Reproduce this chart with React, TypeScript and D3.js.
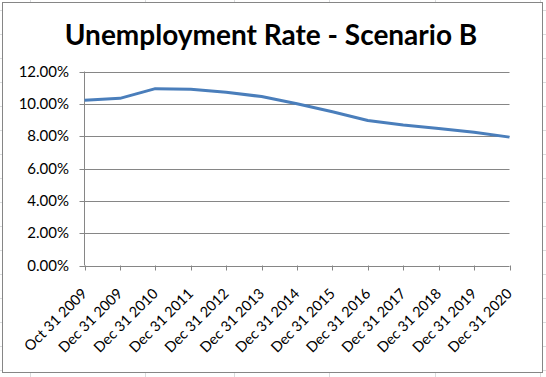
import React from "react";
import * as d3 from "d3";

const categories = [
  "Oct 31 2009", "Dec 31 2009", "Dec 31 2010", "Dec 31 2011", "Dec 31 2012",
  "Dec 31 2013", "Dec 31 2014", "Dec 31 2015", "Dec 31 2016", "Dec 31 2017",
  "Dec 31 2018", "Dec 31 2019", "Dec 31 2020",
];
const rates = [10.22, 10.34, 10.94, 10.9, 10.72, 10.45, 10.0, 9.51, 8.97, 8.69, 8.48, 8.24, 7.94];
const yTicks = [0, 2, 4, 6, 8, 10, 12];
const title = "Unemployment Rate - Scenario B";

const W = 546, H = 377;
const left = 84.5, right = 509.5, top = 71.5, bottom = 265.5;
const cellCols = [30, 145, 234, 329, 435, 540];
const cellRows = d3.range(10, 377, 24);

export default function App() {
  const x = d3.scalePoint<string>().domain(categories).range([left, right]);
  const y = d3.scaleLinear().domain([0, 12]).range([bottom, top]);
  const line = d3.line<number>().x((_, i) => x(categories[i])!).y((d) => y(d));
  const font = "Lato, 'DejaVu Sans', sans-serif";
  const grid = "#868686";
  return (
    <svg width={W} height={H} style={{ position: "absolute", left: 0, top: 0, background: "#fff" }}>
      {cellCols.map((c) => (
        <line key={"c" + c} x1={c + 0.5} x2={c + 0.5} y1={0} y2={H} stroke="#dadcdd" />
      ))}
      {cellRows.map((r) => (
        <line key={"r" + r} x1={0} x2={W} y1={r + 0.5} y2={r + 0.5} stroke="#dadcdd" />
      ))}
      <rect x={2.5} y={2.5} width={540} height={370} fill="#fff" stroke={grid} />
      <text x={271} y={44.5} textAnchor="middle" fontFamily={font} fontWeight="bold" fontSize={28} fill="#000">
        {title}
      </text>
      {yTicks.map((t) => (
        <g key={t}>
          <line x1={left - 5} x2={right} y1={Math.round(y(t)) + 0.5} y2={Math.round(y(t)) + 0.5} stroke={grid} />
          <text x={69} y={y(t) + 5} textAnchor="end" fontFamily={font} fontSize={15} fill="#000">
            {t.toFixed(2) + "%"}
          </text>
        </g>
      ))}
      <line x1={left} x2={left} y1={top} y2={bottom} stroke={grid} />
      {categories.map((c) => {
        const cx = x(c)!;
        return (
          <g key={c}>
            <line x1={Math.round(cx) + 0.5} x2={Math.round(cx) + 0.5} y1={bottom} y2={bottom + 5} stroke={grid} />
            <text
              transform={`translate(${cx + 3.5},${bottom + 29}) rotate(-45)`}
              textAnchor="end"
              fontFamily={font}
              fontSize={14.5}
              fill="#000"
            >
              {c}
            </text>
          </g>
        );
      })}
      <path d={line(rates)!} fill="none" stroke="#4a7ebb" strokeWidth={3} strokeLinejoin="round" />
    </svg>
  );
}
